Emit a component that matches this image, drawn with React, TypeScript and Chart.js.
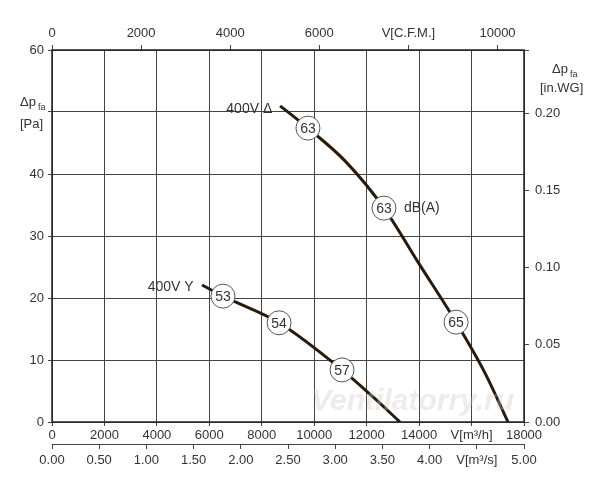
import React, { useEffect, useRef } from "react";
import { Chart, registerables } from "chart.js";
Chart.register(...registerables);

const deltaCurve = [
  { x: 8700, y: 51 }, { x: 9760, y: 47.4 }, { x: 11200, y: 42 }, { x: 12660, y: 34.5 },
  { x: 14000, y: 25.5 }, { x: 15410, y: 16.1 }, { x: 16500, y: 8 }, { x: 17390, y: 0 },
];
const starCurve = [
  { x: 5720, y: 22.1 }, { x: 6520, y: 20.3 }, { x: 8660, y: 16 }, { x: 11060, y: 8.4 },
  { x: 12200, y: 4.2 }, { x: 13270, y: 0 },
];
const noiseMarks = [
  { x: 9760, y: 47.4, t: "63" }, { x: 12660, y: 34.5, t: "63" }, { x: 15410, y: 16.1, t: "65" },
  { x: 6520, y: 20.3, t: "53" }, { x: 8660, y: 16, t: "54" }, { x: 11060, y: 8.4, t: "57" },
];
const curveLabels = [
  { x: 8400, y: 50.5, t: "400V Δ" }, { x: 5400, y: 21.8, t: "400V Y" },
];
const cfmTicks = [0, 2000, 4000, 6000, 8000, 10000];
const FONT = "'Liberation Sans', Arial, sans-serif";
const C = "#333";

const overlay = {
  id: "overlay",
  afterDatasetsDraw(chart: any) {
    const ctx = chart.ctx, x = chart.scales.x, y = chart.scales.y, a = chart.chartArea;
    ctx.save();
    ctx.font = `italic bold 30px ${FONT}`;
    ctx.fillStyle = "rgba(200,200,200,0.35)";
    ctx.textAlign = "right"; ctx.textBaseline = "alphabetic";
    ctx.fillText("Ventilatorry.ru", a.right - 10, a.bottom - 12);
    ctx.font = `14px ${FONT}`; ctx.fillStyle = C;
    for (const l of curveLabels) {
      ctx.textAlign = "right"; ctx.textBaseline = "middle";
      ctx.fillText(l.t, x.getPixelForValue(l.x), y.getPixelForValue(l.y));
    }
    ctx.textAlign = "left";
    ctx.fillText("dB(A)", x.getPixelForValue(12660) + 20, y.getPixelForValue(34.5));
    for (const m of noiseMarks) {
      const px = x.getPixelForValue(m.x), py = y.getPixelForValue(m.y);
      ctx.beginPath(); ctx.arc(px, py, 12, 0, Math.PI * 2);
      ctx.fillStyle = "#fff"; ctx.fill();
      ctx.lineWidth = 1; ctx.strokeStyle = "#555"; ctx.stroke();
      ctx.fillStyle = C; ctx.textAlign = "center"; ctx.textBaseline = "middle";
      ctx.fillText(m.t, px, py + 1);
    }
    ctx.textAlign = "left"; ctx.textBaseline = "alphabetic";
    ctx.font = `13px ${FONT}`;
    ctx.fillText("Δp", 20, 106); ctx.font = `9px ${FONT}`; ctx.fillText("fa", 38, 110);
    ctx.font = `13px ${FONT}`; ctx.fillText("[Pa]", 20, 128);
    ctx.fillText("Δp", 552, 73); ctx.font = `9px ${FONT}`; ctx.fillText("fa", 570, 77);
    ctx.font = `13px ${FONT}`; ctx.fillText("[in.WG]", 540, 92);
    ctx.lineWidth = 1.5; ctx.strokeStyle = "#222";
    ctx.strokeRect(a.left, a.top, a.right - a.left, a.bottom - a.top);
    ctx.restore();
  },
};

export default function App() {
  const ref = useRef<HTMLCanvasElement>(null);
  useEffect(() => {
    document.body.style.margin = "0";
    const tick = { color: C, font: { family: FONT, size: 13 }, maxRotation: 0, minRotation: 0, autoSkip: false };
    const chart = new Chart(ref.current!, {
      type: "line",
      data: {
        datasets: [
          { data: deltaCurve, borderColor: "#2a1a0c", borderWidth: 3, pointRadius: 0, cubicInterpolationMode: "monotone", xAxisID: "x", yAxisID: "y" },
          { data: starCurve, borderColor: "#2a1a0c", borderWidth: 3, pointRadius: 0, cubicInterpolationMode: "monotone", xAxisID: "x", yAxisID: "y" },
        ],
      },
      options: {
        animation: false, responsive: false,
        plugins: { legend: { display: false }, tooltip: { enabled: false } },
        layout: { padding: { left: 0, right: 0, top: 0, bottom: 0 }, autoPadding: false },
        scales: {
          x: {
            type: "linear", position: "bottom", min: 0, max: 18000,
            ticks: { ...tick, stepSize: 2000, padding: 2, callback: (v: any) => (v === 16000 ? "V[m³/h]" : String(v)) },
            grid: { color: "#444", lineWidth: 1, tickLength: 4 }, border: { display: false },
            afterFit: (s: any) => { s.height = 22; },
          },
          x2: {
            type: "linear", position: "bottom", min: 0, max: 5,
            ticks: { ...tick, stepSize: 0.5, padding: 4, callback: (v: any) => (Math.abs(v - 4.5) < 1e-6 ? "V[m³/s]" : Number(v).toFixed(2)) },
            grid: { drawOnChartArea: false, color: "#444", tickLength: 5 }, border: { display: true, color: "#444" },
            afterFit: (s: any) => { s.height = 56; },
          },
          xt: {
            type: "linear", position: "top", min: 0, max: 18000 / 1.699,
            afterBuildTicks: (s: any) => { s.ticks = cfmTicks.map((v) => ({ value: v })); },
            ticks: { ...tick, padding: 4, callback: (v: any) => (v === 8000 ? "V[C.F.M.]" : String(v)) },
            grid: { drawOnChartArea: false, color: "#444", tickLength: 5 }, border: { display: true, color: "#444" },
            afterFit: (s: any) => { s.height = 50; },
          },
          y: {
            type: "linear", position: "left", min: 0, max: 60,
            ticks: { ...tick, stepSize: 10, padding: 4, callback: (v: any) => (v === 50 ? "" : String(v)) },
            grid: { color: "#444", lineWidth: 1, tickLength: 4 }, border: { display: false },
            afterFit: (s: any) => { s.width = 52; },
          },
          yr: {
            type: "linear", position: "right", min: 0, max: 60 / 249.09,
            ticks: { ...tick, stepSize: 0.05, padding: 6, callback: (v: any) => (v > 0.201 ? "" : Number(v).toFixed(2)) },
            grid: { drawOnChartArea: false, color: "#444", tickLength: 5 }, border: { display: true, color: "#444" },
            afterFit: (s: any) => { s.width = 76; },
          },
        },
      } as any,
      plugins: [overlay],
    });
    return () => chart.destroy();
  }, []);
  return <canvas ref={ref} width={600} height={500} style={{ display: "block" }} />;
}
